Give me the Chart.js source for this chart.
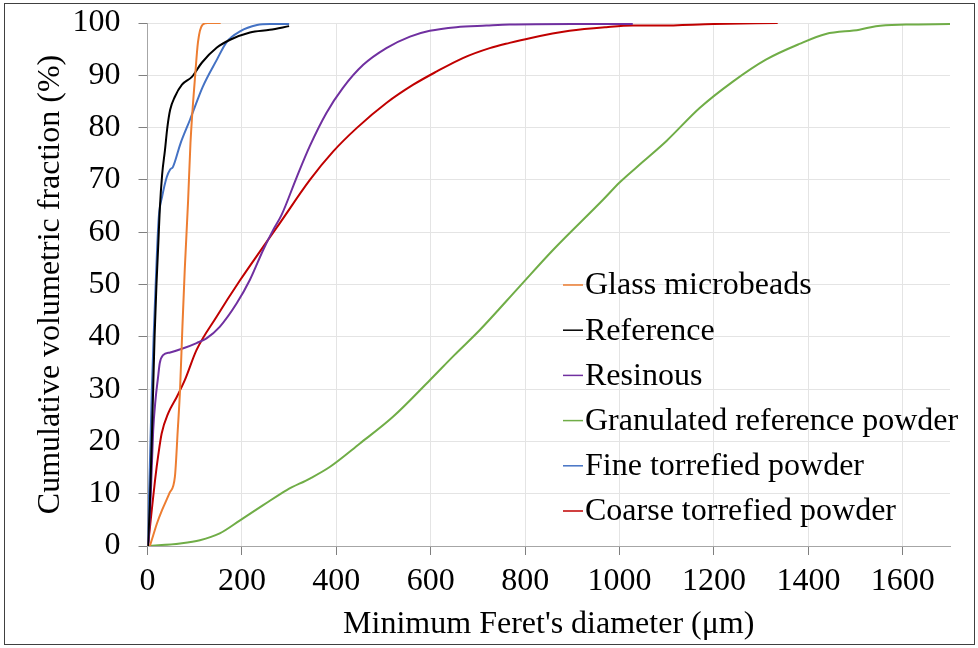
<!DOCTYPE html>
<html>
<head>
<meta charset="utf-8">
<script src="https://cdn.jsdelivr.net/npm/chart.js@4.4.1/dist/chart.umd.min.js"></script>
<style>
  html, body { margin: 0; padding: 0; background: #fff; }
  #wrap { width: 978px; height: 648px; position: relative; }
</style>
</head>
<body>
<div id="wrap"><canvas id="psdChart" width="978" height="648"></canvas></div>
<script>
// series names, in legend order
const seriesNames = ['Glass microbeads', 'Reference', 'Resinous', 'Granulated reference powder', 'Fine torrefied powder', 'Coarse torrefied powder'];
const seriesColors = ['#ED7D31', '#000000', '#7030A0', '#70AD47', '#4472C4', '#C00000'];

// x = minimum Feret's diameter (um), y = cumulative volumetric fraction (%)
const glassX = [5, 12, 20, 31, 47, 58, 64, 69, 74, 79, 86, 91, 101, 107, 117, 128, 155];
const glassY = [0, 2, 4.3, 6.9, 10.2, 13.2, 22, 30, 42, 53, 66, 77, 90, 96.4, 99.7, 100, 100];

const referenceX = [1, 5, 9, 12, 15, 19, 23, 26, 31, 37, 42, 48, 58, 73, 94, 115, 147, 175, 217, 259, 300];
const referenceY = [0, 8, 20, 30, 40, 50, 58, 64.3, 71, 75.7, 80, 83.4, 85.9, 88.2, 89.7, 92.4, 95.3, 96.8, 98.2, 98.7, 99.4];

const resinousX = [2, 7, 12, 17, 22, 26, 33, 48, 76, 104, 125, 153, 189, 217, 245, 266, 284, 316, 344, 379, 414, 457, 506, 556, 598, 654, 718, 767, 900, 1028];
const resinousY = [0, 10, 22, 28, 32, 35, 36.5, 37, 37.8, 38.8, 39.7, 41.9, 46.4, 50.9, 56.6, 60.4, 63.3, 70.5, 76.5, 82.8, 87.6, 92, 95.2, 97.4, 98.5, 99.2, 99.5, 99.7, 99.8, 99.8];

const granulatedX = [0, 69, 111, 153, 196, 245, 295, 344, 386, 450, 520, 598, 650, 704, 788, 859, 965, 1000, 1050, 1100, 1169, 1240, 1310, 1381, 1437, 1508, 1543, 1607, 1700];
const granulatedY = [0, 0.5, 1.1, 2.4, 4.9, 7.8, 10.7, 12.9, 15.1, 19.6, 24.7, 31.7, 36.5, 41.3, 49.6, 56.6, 66.2, 69.5, 73.5, 77.5, 83.7, 88.8, 93, 96, 97.9, 98.7, 99.4, 99.7, 99.8];

const fineX = [0, 4, 9, 13, 16, 20, 24, 31, 41, 48, 54, 70, 90, 117, 147, 168, 196, 232, 260, 300];
const fineY = [0, 12, 29.2, 40, 47, 56, 63, 66.8, 70.6, 72, 72.5, 77, 81.5, 87.8, 93, 96.4, 98.4, 99.6, 99.8, 99.8];

const coarseX = [0, 2, 8, 16, 23, 30, 44, 62, 79, 104, 146, 196, 245, 280, 344, 393, 443, 506, 563, 612, 668, 725, 767, 810, 894, 972, 1028, 1085, 1200, 1335];
const coarseY = [0, 1, 6, 12.6, 17.5, 21.5, 25.4, 28.5, 31.7, 37.5, 43.8, 50.8, 57.2, 61.7, 70, 75.4, 79.9, 84.7, 88.2, 90.7, 93.3, 95.2, 96.2, 97.1, 98.5, 99.2, 99.5, 99.5, 99.8, 100];

const seriesX = [glassX, referenceX, resinousX, granulatedX, fineX, coarseX];
const seriesY = [glassY, referenceY, resinousY, granulatedY, fineY, coarseY];

const xTickValues = [0, 200, 400, 600, 800, 1000, 1200, 1400, 1600];

const serif = "'Liberation Serif', 'Times New Roman', serif";

const datasets = seriesNames.map((name, i) => ({
  label: name,
  data: seriesX[i].map((x, k) => ({ x: x, y: seriesY[i][k] })),
  borderColor: seriesColors[i],
  backgroundColor: seriesColors[i],
  borderWidth: 2,
  pointRadius: 0,
  fill: false,
  cubicInterpolationMode: 'monotone'
}));

// white page with a thin frame around it
const framePlugin = {
  id: 'frame',
  beforeDraw(chart) {
    const ctx = chart.ctx;
    ctx.save();
    ctx.fillStyle = '#fff';
    ctx.fillRect(0, 0, chart.width, chart.height);
    ctx.strokeStyle = '#404040';
    ctx.lineWidth = 1;
    ctx.strokeRect(4.5, 3.5, 970, 641);
    ctx.restore();
  }
};

// legend drawn inside the plot, lower right
const insideLegend = {
  id: 'insideLegend',
  afterDraw(chart) {
    const ctx = chart.ctx;
    const left = 563;
    const top = 285;
    const rowGap = 45.2;
    ctx.save();
    ctx.font = '32px ' + serif;
    ctx.textBaseline = 'middle';
    ctx.textAlign = 'left';
    chart.data.datasets.forEach((ds, i) => {
      const y = top + i * rowGap;
      ctx.strokeStyle = ds.borderColor;
      ctx.lineWidth = 1.5;
      ctx.beginPath();
      ctx.moveTo(left, y);
      ctx.lineTo(left + 20, y);
      ctx.stroke();
      ctx.fillStyle = '#000';
      ctx.fillText(ds.label, left + 22, y + 1);
    });
    ctx.restore();
  }
};

new Chart(document.getElementById('psdChart'), {
  type: 'line',
  data: { datasets: datasets },
  plugins: [framePlugin, insideLegend],
  options: {
    responsive: false,
    animation: false,
    layout: { padding: { left: 0, right: 28, top: 23, bottom: 0 } },
    plugins: {
      legend: { display: false },
      tooltip: { enabled: false }
    },
    scales: {
      x: {
        type: 'linear',
        min: 0,
        max: 1700,
        afterBuildTicks: scale => {
          scale.ticks = xTickValues.map(v => ({ value: v }));
        },
        afterFit: scale => {
          scale.height = 102;
          scale.paddingLeft = 0;
          scale.paddingRight = 0;
        },
        ticks: {
          color: '#000',
          font: { family: serif, size: 32 },
          padding: 7,
          maxRotation: 0,
          callback: v => String(v)
        },
        grid: { color: '#e4e4e4', tickColor: '#7f7f7f', tickLength: 9 },
        border: { color: '#a6a6a6', width: 1 },
        title: {
          display: true,
          text: "Minimum Feret's diameter (μm)",
          color: '#000',
          font: { family: serif, size: 32 },
          padding: { top: 0, bottom: 4 }
        }
      },
      y: {
        min: 0,
        max: 100,
        ticks: {
          stepSize: 10,
          color: '#000',
          font: { family: serif, size: 32 },
          padding: 18
        },
        afterFit: scale => {
          scale.width = 147.5;
          scale.paddingTop = 0;
          scale.paddingBottom = 0;
        },
        grid: { color: '#e4e4e4', tickColor: '#7f7f7f', tickLength: 9 },
        border: { color: '#a6a6a6', width: 1 },
        title: {
          display: true,
          text: 'Cumulative volumetric fraction (%)',
          color: '#000',
          font: { family: serif, size: 32 },
          padding: { top: 31, bottom: 0 }
        }
      }
    }
  }
});
</script>
</body>
</html>
